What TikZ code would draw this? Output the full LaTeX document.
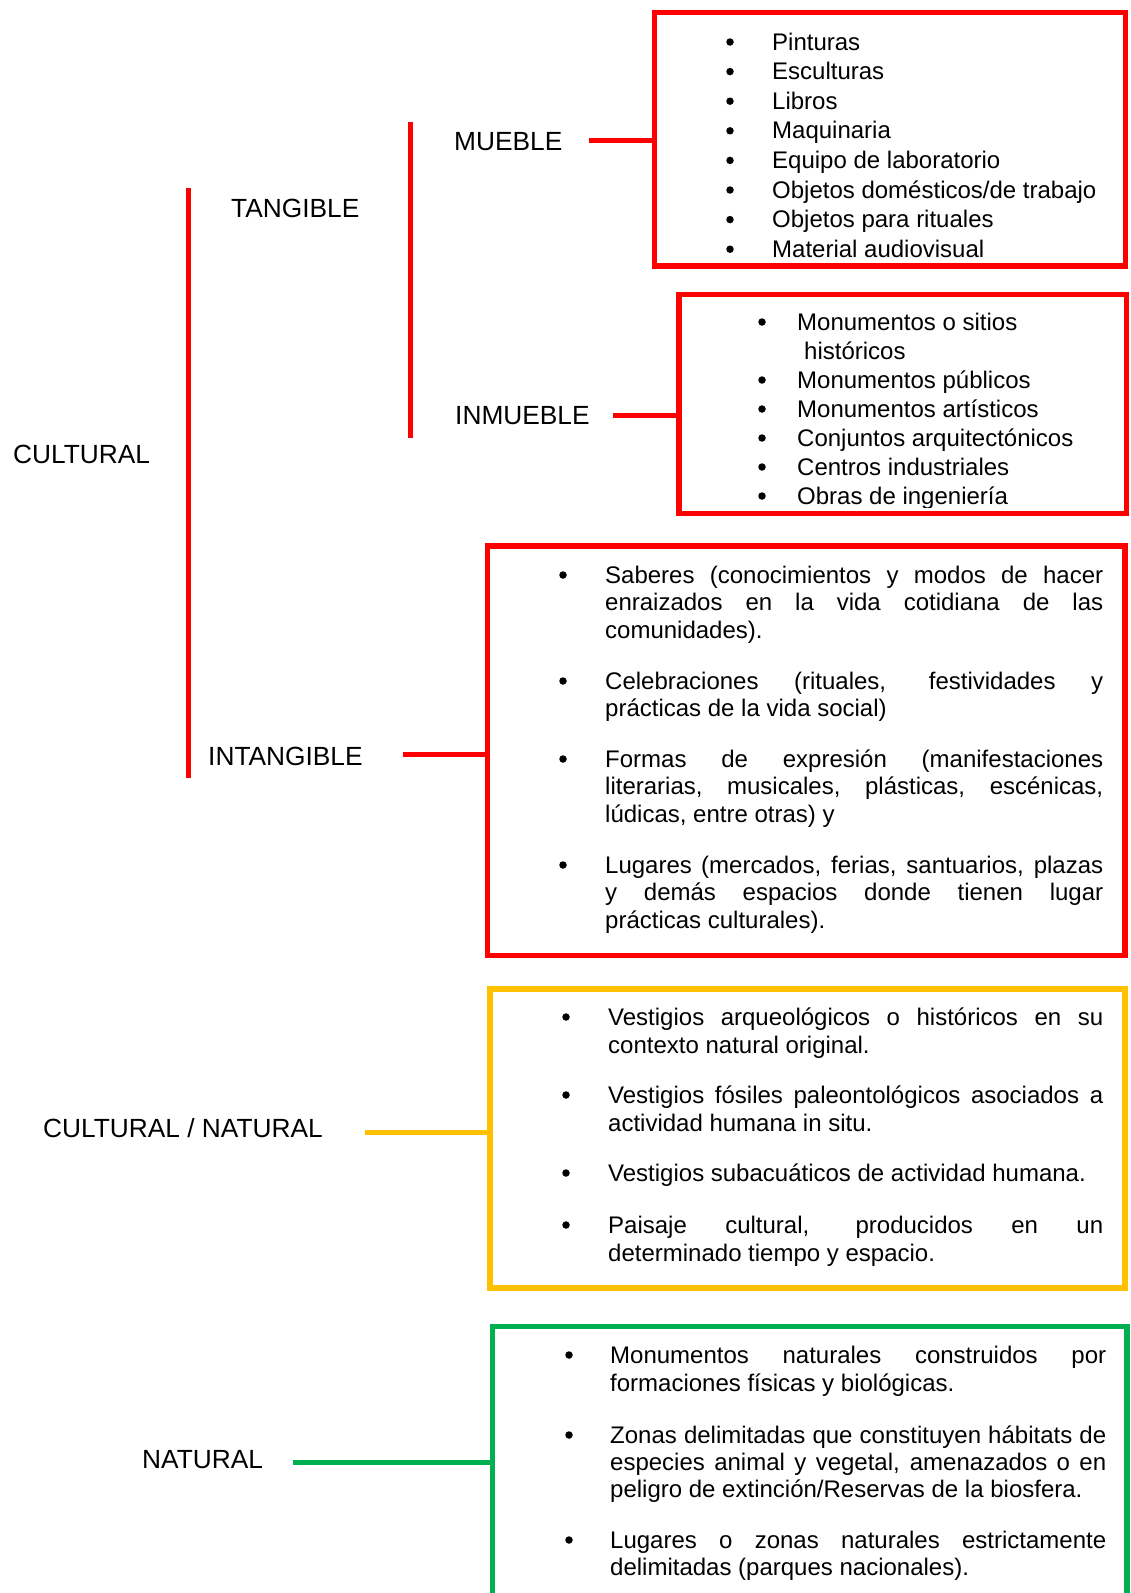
\documentclass[tikz,border=0pt]{standalone}
\usepackage{fontspec}
\setmainfont{Liberation Sans}
\definecolor{cred}{HTML}{FF0000}
\definecolor{cyel}{HTML}{FFC000}
\definecolor{cgrn}{HTML}{00B050}
\newcommand\jfy[2]{\makebox[#1][s]{#2}}
\begin{document}
\begin{tikzpicture}[x=1pt,y=-1pt,
  lbl/.style={font=\fontsize{26.3}{30}\selectfont, inner sep=0pt, anchor=base west},
  itm/.style={font=\fontsize{24}{28}\selectfont, inner sep=0pt, anchor=base west},
  bul/.style={circle, fill=black, inner sep=0pt, minimum size=7.5pt, yshift=8pt},
  boxr/.style={draw=#1, line width=5.5pt, inner sep=0pt, outer sep=0pt, anchor=north west},
  conn/.style={draw=#1, line width=5pt},
]
\useasboundingbox (0,0) rectangle (1130,1593);
\clip (0,0) rectangle (1130,1593);
\fill[white] (0,0) rectangle (1130,1593);

% boxes
\node[boxr=cred, minimum width=471pt, minimum height=253.5pt] (mbox) at (654.5,12.5) {};
\node[boxr=cred, minimum width=447.5pt, minimum height=219pt] (ibox) at (679,294.5) {};
\node[boxr=cred, minimum width=637.5pt, minimum height=409.5pt] (tbox) at (487.5,546) {};
\node[boxr=cyel, minimum width=635pt, minimum height=299pt] (ybox) at (490,989) {};
\node[boxr=cgrn, minimum width=634.5pt, minimum height=300pt] (gbox) at (492.5,1326.5) {};

% labels
\node[lbl] (cultural) at (13,463) {CULTURAL};
\node[lbl] (tangible) at (231,217) {TANGIBLE};
\node[lbl] (mueble) at (454,150) {MUEBLE};
\node[lbl] (inmueble) at (455,424) {INMUEBLE};
\node[lbl] (intangible) at (208,765) {INTANGIBLE};
\node[lbl] (culnat) at (43,1137) {CULTURAL / NATURAL};
\node[lbl] (natural) at (142,1468) {NATURAL};

% brackets
\coordinate (b1top) at (188,188); \coordinate (b1bot) at (188,778);
\draw[conn=cred] (b1top) -- (b1bot);
\coordinate (b2top) at (410,122); \coordinate (b2bot) at (410,438);
\draw[conn=cred] (b2top) -- (b2bot);

% connectors
\coordinate (cm) at (589,140); \draw[conn=cred] (cm) -- (cm -| mbox.west);
\coordinate (ci) at (613,415.5); \draw[conn=cred] (ci) -- (ci -| ibox.west);
\coordinate (ct) at (403,754); \draw[conn=cred] (ct) -- (ct -| tbox.west);
\coordinate (cy) at (365,1132); \draw[conn=cyel] (cy) -- (cy -| ybox.west);
\coordinate (cg) at (293,1462); \draw[conn=cgrn] (cg) -- (cg -| gbox.west);

% MUEBLE list
\foreach \t [count=\i from 0] in {Pinturas,Esculturas,Libros,Maquinaria,Equipo de laboratorio,Objetos domésticos/de trabajo,Objetos para rituales,Material audiovisual} {
  \node[itm] (mi\i) at (772,{50+29.6*\i}) {\t};
  \node[bul] (mb\i) at (730,{50+29.6*\i}) {};
}

% INMUEBLE list
\begin{scope}
\clip (682,297) rectangle (1124,507);
\node[bul] (ib1) at (762,330) {}; \node[itm] (ii1) at (797,330) {Monumentos o sitios};
\node[itm] (ii1b) at (804,359) {históricos};
\node[bul] (ib2) at (762,388) {}; \node[itm] (ii2) at (797,388) {Monumentos públicos};
\node[bul] (ib3) at (762,417) {}; \node[itm] (ii3) at (797,417) {Monumentos artísticos};
\node[bul] (ib4) at (762,446) {}; \node[itm] (ii4) at (797,446) {Conjuntos arquitectónicos};
\node[bul] (ib5) at (762,475) {}; \node[itm] (ii5) at (797,475) {Centros industriales};
\node[bul] (ib6) at (762,504) {}; \node[itm] (ii6) at (797,504) {Obras de ingeniería};
\end{scope}

% INTANGIBLE list
\node[bul] (tb1) at (563,583) {};
\node[itm] (t1a) at (605,583) {\jfy{498pt}{Saberes (conocimientos y modos de hacer}};
\node[itm] (t1b) at (605,610.5) {\jfy{498pt}{enraizados en la vida cotidiana de las}};
\node[itm] (t1c) at (605,638) {comunidades).};
\node[bul] (tb2) at (563,689) {};
\node[itm] (t2a) at (605,689) {\jfy{498pt}{Celebraciones (rituales, festividades y}};
\node[itm] (t2b) at (605,716.5) {prácticas de la vida social)};
\node[bul] (tb3) at (563,767) {};
\node[itm] (t3a) at (605,767) {\jfy{498pt}{Formas de expresión (manifestaciones}};
\node[itm] (t3b) at (605,794.5) {\jfy{498pt}{literarias, musicales, plásticas, escénicas,}};
\node[itm] (t3c) at (605,822) {lúdicas, entre otras) y};
\node[bul] (tb4) at (563,873) {};
\node[itm] (t4a) at (605,873) {\jfy{498pt}{Lugares (mercados, ferias, santuarios, plazas}};
\node[itm] (t4b) at (605,900.5) {\jfy{498pt}{y demás espacios donde tienen lugar}};
\node[itm] (t4c) at (605,928) {prácticas culturales).};

% CULTURAL / NATURAL list
\node[bul] (yb1) at (566,1025) {};
\node[itm] (y1a) at (608,1025) {\jfy{495pt}{Vestigios arqueológicos o históricos en su}};
\node[itm] (y1b) at (608,1053) {contexto natural original.};
\node[bul] (yb2) at (566,1103) {};
\node[itm] (y2a) at (608,1103) {\jfy{495pt}{Vestigios fósiles paleontológicos asociados a}};
\node[itm] (y2b) at (608,1131) {actividad humana in situ.};
\node[bul] (yb3) at (566,1181) {};
\node[itm] (y3a) at (608,1181) {Vestigios subacuáticos de actividad humana.};
\node[bul] (yb4) at (566,1233) {};
\node[itm] (y4a) at (608,1233) {\jfy{495pt}{Paisaje cultural, producidos en un}};
\node[itm] (y4b) at (608,1261) {determinado tiempo y espacio.};

% NATURAL list
\node[bul] (gb1) at (569,1363) {};
\node[itm] (g1a) at (610,1363) {\jfy{496pt}{Monumentos naturales construidos por}};
\node[itm] (g1b) at (610,1391) {formaciones físicas y biológicas.};
\node[bul] (gb2) at (569,1443) {};
\node[itm] (g2a) at (610,1443) {\jfy{496pt}{Zonas delimitadas que constituyen hábitats de}};
\node[itm] (g2b) at (610,1470) {\jfy{496pt}{especies animal y vegetal, amenazados o en}};
\node[itm] (g2c) at (610,1497) {peligro de extinción/Reservas de la biosfera.};
\node[bul] (gb3) at (569,1548) {};
\node[itm] (g3a) at (610,1548) {\jfy{496pt}{Lugares o zonas naturales estrictamente}};
\node[itm] (g3b) at (610,1575) {delimitadas (parques nacionales).};
\end{tikzpicture}
\end{document}
